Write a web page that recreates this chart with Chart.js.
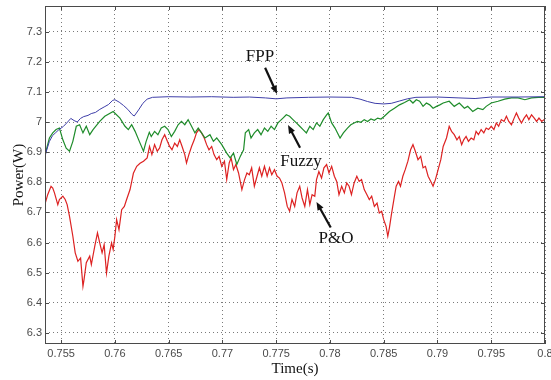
<!DOCTYPE html>
<html>
<head>
<meta charset="utf-8">
<script src="https://cdn.jsdelivr.net/npm/chart.js@4.4.0/dist/chart.umd.min.js"></script>
<style>
    html, body { margin: 0; padding: 0; background: #ffffff; }
    canvas { display: block; }
</style>
</head>
<body>
<canvas id="powerChart" width="551" height="380"></canvas>
<script>
// Axis ticks
const timeTicks = [0.755, 0.76, 0.765, 0.77, 0.775, 0.78, 0.785, 0.79, 0.795, 0.8]
const timeTickLabels = ['0.755', '0.76', '0.765', '0.77', '0.775', '0.78', '0.785', '0.79', '0.795', '0.8']
const powerTicks = [6.3, 6.4, 6.5, 6.6, 6.7, 6.8, 6.9, 7.0, 7.1, 7.2, 7.3]
const powerTickLabels = ['6.3', '6.4', '6.5', '6.6', '6.7', '6.8', '6.9', '7', '7.1', '7.2', '7.3']

// FPP
const fppTime = [
    0.75344, 0.7536, 0.7539, 0.7542, 0.7545, 0.7548, 0.7552, 0.7556, 0.7559, 0.7562,
    0.7565, 0.7568, 0.7571, 0.7575, 0.7578, 0.7582, 0.7586, 0.759, 0.7594, 0.7598,
    0.76, 0.7604, 0.7608, 0.7612, 0.7616, 0.7618, 0.7622, 0.7626, 0.763, 0.7635,
    0.765, 0.767, 0.769, 0.771, 0.7725, 0.774, 0.775, 0.776, 0.778, 0.78,
    0.782, 0.7828, 0.7835, 0.7842, 0.785, 0.7857, 0.7865, 0.7872, 0.788, 0.79,
    0.792, 0.7935, 0.795, 0.7975, 0.8
]
const fppPower = [
    6.875, 6.9, 6.935, 6.955, 6.965, 6.975, 6.985, 7.0, 7.012, 7.005,
    7.0, 7.012, 7.018, 7.022, 7.028, 7.032, 7.042, 7.05, 7.058, 7.072,
    7.074, 7.066, 7.055, 7.042, 7.025, 7.02, 7.04, 7.062, 7.076, 7.082,
    7.084, 7.083, 7.084, 7.082, 7.083, 7.08, 7.077, 7.08, 7.082, 7.083,
    7.082, 7.076, 7.068, 7.062, 7.06, 7.062, 7.07, 7.077, 7.082, 7.083,
    7.08, 7.078, 7.083, 7.083, 7.084
]

// Fuzzy
const fuzzyTime = [
    0.75344, 0.75359, 0.75391, 0.75422, 0.75453, 0.75484, 0.75516, 0.75547, 0.75578, 0.75609,
    0.75641, 0.75672, 0.75703, 0.75734, 0.75766, 0.75797, 0.75859, 0.75906, 0.75984, 0.76047,
    0.76094, 0.76125, 0.76156, 0.76188, 0.76234, 0.76266, 0.7629, 0.7632, 0.76338, 0.76369,
    0.764, 0.76431, 0.76463, 0.76494, 0.76525, 0.76556, 0.76588, 0.76619, 0.7665, 0.76681,
    0.76713, 0.76744, 0.76775, 0.76806, 0.76838, 0.76884, 0.76916, 0.76947, 0.76994, 0.7704,
    0.77072, 0.77103, 0.77134, 0.77166, 0.77197, 0.77213, 0.77244, 0.77266, 0.77297, 0.77328,
    0.77359, 0.77391, 0.77422, 0.77453, 0.77484, 0.77516, 0.77563, 0.77594, 0.77625, 0.77656,
    0.77688, 0.77719, 0.7775, 0.77781, 0.77813, 0.77844, 0.77875, 0.77906, 0.77938, 0.77969,
    0.77984, 0.78016, 0.78047, 0.78094, 0.78125, 0.78163, 0.78194, 0.78225, 0.78256, 0.78288,
    0.78319, 0.7835, 0.78381, 0.78413, 0.78444, 0.78475, 0.78506, 0.78553, 0.786, 0.78647,
    0.78694, 0.78741, 0.78772, 0.78803, 0.78834, 0.78866, 0.78897, 0.78928, 0.78959, 0.78991,
    0.79022, 0.79053, 0.79109, 0.79156, 0.79203, 0.7925, 0.79281, 0.79328, 0.79375, 0.79422,
    0.79453, 0.795, 0.79563, 0.79625, 0.79688, 0.7975, 0.79813, 0.79875, 0.79938, 0.8
]
const fuzzyPower = [
    6.886, 6.903, 6.947, 6.964, 6.975, 6.980, 6.941, 6.913, 6.903, 6.936,
    6.986, 6.991, 6.964, 6.986, 6.958, 6.975, 7.002, 7.019, 7.035, 7.013,
    6.986, 6.975, 6.991, 6.969, 6.930, 6.903, 6.935, 6.966, 6.952, 6.969,
    6.958, 6.980, 6.986, 6.975, 6.952, 6.969, 6.991, 7.002, 6.991, 7.008,
    6.986, 6.964, 6.980, 6.964, 6.947, 6.958, 6.936, 6.947, 6.925, 6.897,
    6.881, 6.897, 6.859, 6.886, 6.908, 6.964, 6.975, 6.947, 6.964, 6.975,
    6.958, 6.980, 6.969, 6.986, 6.975, 6.997, 7.013, 7.024, 7.019, 7.008,
    6.997, 6.986, 6.975, 6.964, 6.986, 6.975, 6.997, 6.986, 7.008, 7.024,
    7.030, 6.997, 6.980, 6.947, 6.964, 6.980, 6.991, 6.997, 7.002, 6.999,
    7.008, 7.002, 7.010, 7.006, 7.013, 7.010, 7.019, 7.035, 7.046, 7.057,
    7.065, 7.074, 7.063, 7.074, 7.069, 7.052, 7.063, 7.057, 7.046, 7.052,
    7.057, 7.063, 7.069, 7.052, 7.063, 7.046, 7.052, 7.035, 7.046, 7.041,
    7.052, 7.063, 7.069, 7.076, 7.080, 7.080, 7.074, 7.080, 7.082, 7.082
]

// P&O
const poTime = [
    0.75344, 0.75375, 0.75406, 0.75422, 0.75438, 0.75469, 0.75484, 0.75516, 0.75538, 0.75556,
    0.75578, 0.75609, 0.75631, 0.75656, 0.75681, 0.75703, 0.75713, 0.75734, 0.75766, 0.75781,
    0.75813, 0.75838, 0.75859, 0.75881, 0.759, 0.75922, 0.75944, 0.75969, 0.75984, 0.76,
    0.76016, 0.76038, 0.76063, 0.76088, 0.76109, 0.76141, 0.76172, 0.76203, 0.76234, 0.76266,
    0.763, 0.76322, 0.76344, 0.76369, 0.76394, 0.76416, 0.76438, 0.76463, 0.76488, 0.76509,
    0.76531, 0.76556, 0.76581, 0.76603, 0.76625, 0.7665, 0.76666, 0.76688, 0.76713, 0.76738,
    0.76759, 0.76781, 0.76806, 0.76831, 0.76853, 0.76875, 0.769, 0.76922, 0.76947, 0.76969,
    0.76994, 0.77019, 0.7704, 0.77063, 0.77081, 0.77103, 0.77125, 0.7715, 0.77181, 0.77206,
    0.77228, 0.7725, 0.77272, 0.77297, 0.77322, 0.77344, 0.77366, 0.77391, 0.77416, 0.77438,
    0.77459, 0.77484, 0.77509, 0.77531, 0.77553, 0.77578, 0.77603, 0.77625, 0.77647, 0.77672,
    0.77694, 0.77719, 0.77741, 0.77766, 0.77791, 0.77813, 0.77834, 0.77859, 0.77875, 0.77897,
    0.77922, 0.77944, 0.77969, 0.77991, 0.78016, 0.78041, 0.78063, 0.78084, 0.78109, 0.78134,
    0.78156, 0.78178, 0.782, 0.78225, 0.7825, 0.78272, 0.78294, 0.78319, 0.78344, 0.78366,
    0.78388, 0.78413, 0.78438, 0.78459, 0.78481, 0.785, 0.78522, 0.78538, 0.78553, 0.78569,
    0.78584, 0.786, 0.78616, 0.78638, 0.78656, 0.78678, 0.787, 0.78725, 0.7875, 0.78772,
    0.78794, 0.78819, 0.78844, 0.78866, 0.78888, 0.78913, 0.78938, 0.78959, 0.78981, 0.79006,
    0.79031, 0.79053, 0.79084, 0.79109, 0.79131, 0.79156, 0.79181, 0.79203, 0.79225, 0.79244,
    0.79266, 0.79288, 0.79313, 0.79338, 0.79359, 0.79381, 0.79406, 0.79431, 0.79453, 0.79475,
    0.795, 0.79525, 0.79547, 0.79569, 0.79594, 0.79619, 0.79641, 0.79663, 0.79688, 0.79713,
    0.79734, 0.79756, 0.79781, 0.79806, 0.79828, 0.7985, 0.79875, 0.799, 0.79922, 0.79944,
    0.79969, 0.79994
]
const poPower = [
    6.720, 6.759, 6.787, 6.781, 6.765, 6.726, 6.743, 6.754, 6.743, 6.726,
    6.687, 6.621, 6.566, 6.538, 6.549, 6.455, 6.477, 6.533, 6.555, 6.527,
    6.588, 6.632, 6.599, 6.566, 6.593, 6.499, 6.555, 6.599, 6.577, 6.621,
    6.676, 6.643, 6.709, 6.720, 6.743, 6.776, 6.830, 6.853, 6.863, 6.870,
    6.881, 6.919, 6.892, 6.925, 6.903, 6.914, 6.941, 6.958, 6.936, 6.919,
    6.908, 6.930, 6.919, 6.941, 6.919, 6.892, 6.864, 6.892, 6.919, 6.941,
    6.964, 6.975, 6.964, 6.947, 6.925, 6.908, 6.919, 6.892, 6.875, 6.886,
    6.853, 6.870, 6.809, 6.864, 6.881, 6.842, 6.859, 6.831, 6.776, 6.809,
    6.831, 6.825, 6.848, 6.787, 6.820, 6.848, 6.820, 6.853, 6.820, 6.848,
    6.825, 6.842, 6.820, 6.814, 6.798, 6.765, 6.720, 6.704, 6.743, 6.720,
    6.765, 6.787, 6.748, 6.720, 6.776, 6.726, 6.759, 6.754, 6.809, 6.836,
    6.814, 6.848, 6.859, 6.831, 6.853, 6.820, 6.803, 6.759, 6.787, 6.765,
    6.798, 6.787, 6.759, 6.798, 6.820, 6.803, 6.809, 6.776, 6.759, 6.743,
    6.754, 6.720, 6.731, 6.698, 6.704, 6.676, 6.654, 6.621, 6.649, 6.687,
    6.720, 6.754, 6.787, 6.803, 6.787, 6.820, 6.842, 6.870, 6.908, 6.925,
    6.903, 6.875, 6.886, 6.848, 6.853, 6.820, 6.803, 6.787, 6.809, 6.842,
    6.875, 6.919, 6.947, 6.986, 6.969, 6.958, 6.941, 6.952, 6.925, 6.941,
    6.952, 6.936, 6.947, 6.941, 6.969, 6.958, 6.975, 6.964, 6.980, 6.975,
    6.986, 6.975, 6.997, 6.986, 7.008, 7.002, 7.019, 7.002, 6.991, 7.013,
    7.030, 7.013, 6.997, 7.013, 7.024, 7.008, 7.024, 7.013, 7.002, 7.013,
    7.002, 7.008
]

// Text labels with arrows, in data units: label centre, arrow tail, arrow tip
const noteLabels = ['FPP', 'Fuzzy', 'P&O']
const noteTextAt = [[0.7735, 7.216], [0.77731, 6.868], [0.78057, 6.612]]
const noteArrowFrom = [[0.77397, 7.18], [0.77722, 6.915], [0.78007, 6.65]]
const noteArrowTo = [[0.77508, 7.093], [0.7761, 6.99], [0.77875, 6.735]]

const toPoints = (times, values) => times.map((t, i) => ({ x: t, y: values[i] }))

const framePlugin = {
    id: 'frame',
    afterDatasetsDraw(chart) {
        const { ctx, chartArea: area, scales: { x, y } } = chart
        ctx.save()
        ctx.strokeStyle = '#4a4a4a'
        ctx.lineWidth = 1
        ctx.strokeRect(area.left + 0.5, area.top + 0.5, area.right - area.left - 1, area.bottom - area.top - 1)

        // MATLAB style inner ticks on every side
        ctx.beginPath()
        timeTicks.forEach(t => {
            const px = Math.round(x.getPixelForValue(t)) + 0.5
            ctx.moveTo(px, area.bottom)
            ctx.lineTo(px, area.bottom - 4)
            ctx.moveTo(px, area.top)
            ctx.lineTo(px, area.top + 4)
        })
        powerTicks.forEach(v => {
            const py = Math.round(y.getPixelForValue(v)) + 0.5
            ctx.moveTo(area.left, py)
            ctx.lineTo(area.left + 4, py)
            ctx.moveTo(area.right, py)
            ctx.lineTo(area.right - 4, py)
        })
        ctx.stroke()
        ctx.restore()
    }
}

const notesPlugin = {
    id: 'notes',
    afterDatasetsDraw(chart) {
        const { ctx, scales: { x, y } } = chart
        ctx.save()
        ctx.fillStyle = '#111111'
        ctx.strokeStyle = '#111111'
        ctx.font = '17px "Liberation Serif", "Times New Roman", serif'
        ctx.textAlign = 'center'
        ctx.textBaseline = 'middle'

        noteLabels.forEach((label, i) => {
            ctx.fillText(label, x.getPixelForValue(noteTextAt[i][0]), y.getPixelForValue(noteTextAt[i][1]))

            const x1 = x.getPixelForValue(noteArrowFrom[i][0])
            const y1 = y.getPixelForValue(noteArrowFrom[i][1])
            const x2 = x.getPixelForValue(noteArrowTo[i][0])
            const y2 = y.getPixelForValue(noteArrowTo[i][1])
            const angle = Math.atan2(y2 - y1, x2 - x1)
            const headLen = 9

            ctx.lineWidth = 2.2
            ctx.beginPath()
            ctx.moveTo(x1, y1)
            ctx.lineTo(x2 - Math.cos(angle) * headLen * 0.7, y2 - Math.sin(angle) * headLen * 0.7)
            ctx.stroke()

            ctx.beginPath()
            ctx.moveTo(x2, y2)
            ctx.lineTo(x2 - headLen * Math.cos(angle - 0.38), y2 - headLen * Math.sin(angle - 0.38))
            ctx.lineTo(x2 - headLen * Math.cos(angle + 0.38), y2 - headLen * Math.sin(angle + 0.38))
            ctx.closePath()
            ctx.fill()
        })
        ctx.restore()
    }
}

const lineStyle = {
    showLine: true,
    pointRadius: 0,
    borderWidth: 1.2,
    tension: 0,
    fill: false
}

const chart = new Chart(document.getElementById('powerChart').getContext('2d'), {
    type: 'scatter',
    data: {
        datasets: [
            { ...lineStyle, label: 'FPP', data: toPoints(fppTime, fppPower), borderColor: '#3d3da8', borderWidth: 1 },
            { ...lineStyle, label: 'Fuzzy', data: toPoints(fuzzyTime, fuzzyPower), borderColor: '#1e8c2a' },
            { ...lineStyle, label: 'P&O', data: toPoints(poTime, poPower), borderColor: '#dd2222' }
        ]
    },
    options: {
        responsive: false,
        animation: false,
        layout: { padding: { top: 6, right: 6, left: 0, bottom: 0 } },
        plugins: {
            legend: { display: false },
            tooltip: { enabled: false }
        },
        scales: {
            x: {
                type: 'linear',
                min: 0.7535,
                max: 0.8,
                afterBuildTicks: scale => { scale.ticks = timeTicks.map(v => ({ value: v })) },
                afterFit: scale => {
                    scale.height = 36
                    scale.paddingLeft = 0
                    scale.paddingRight = 0
                },
                ticks: {
                    autoSkip: false,
                    maxRotation: 0,
                    padding: 3,
                    color: '#4a4a4a',
                    font: { family: '"Liberation Sans", Arial, sans-serif', size: 11 },
                    callback: value => timeTickLabels[timeTicks.indexOf(value)]
                },
                grid: { color: '#7a7a7a', drawTicks: false },
                border: { display: false, dash: [1, 3] },
                title: {
                    display: true,
                    text: 'Time(s)',
                    color: '#111111',
                    font: { family: '"Liberation Serif", "Times New Roman", serif', size: 15 },
                    padding: { top: 0, bottom: 2 }
                }
            },
            y: {
                type: 'linear',
                min: 6.2635,
                max: 7.385,
                afterBuildTicks: scale => { scale.ticks = powerTicks.map(v => ({ value: v })) },
                afterFit: scale => {
                    scale.width = 45
                    scale.paddingTop = 0
                    scale.paddingBottom = 0
                },
                ticks: {
                    autoSkip: false,
                    padding: 3,
                    color: '#4a4a4a',
                    font: { family: '"Liberation Sans", Arial, sans-serif', size: 11 },
                    callback: value => powerTickLabels[powerTicks.findIndex(v => Math.abs(v - value) < 1e-9)]
                },
                grid: { color: '#7a7a7a', drawTicks: false },
                border: { display: false, dash: [1, 3] },
                title: {
                    display: true,
                    text: 'Power(W)',
                    color: '#111111',
                    font: { family: '"Liberation Serif", "Times New Roman", serif', size: 15 },
                    padding: { top: 10, bottom: 0 }
                }
            }
        }
    },
    plugins: [framePlugin, notesPlugin]
})
</script>
</body>
</html>
